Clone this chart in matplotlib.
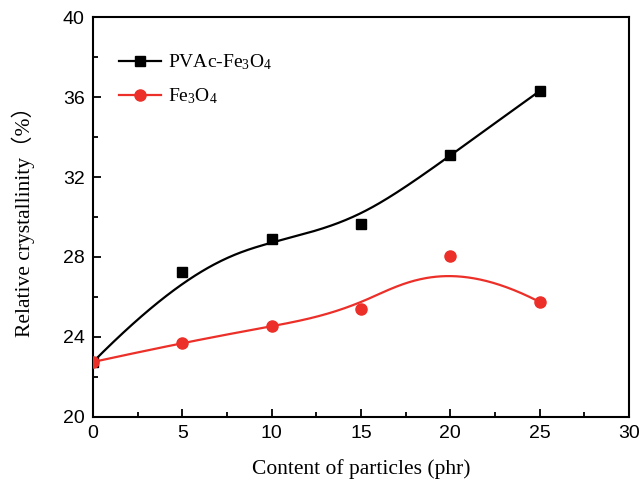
import numpy as np
import matplotlib
matplotlib.use("Agg")
import matplotlib.pyplot as plt

plt.rcParams["mathtext.fontset"] = "custom"
plt.rcParams["mathtext.rm"] = "Liberation Serif"
plt.rcParams["mathtext.it"] = "Liberation Serif:italic"

content = [0, 5, 10, 15, 20, 25]
pvac_fe3o4 = [22.75, 27.25, 28.9, 29.65, 33.1, 36.3]
fe3o4 = [22.75, 23.72, 24.53, 25.38, 28.07, 25.75]


def bspline(xs, ys, n=300, k=3):
    pts = np.column_stack([xs, ys]).astype(float)
    m = len(pts)
    inner = np.linspace(0, 1, m - k + 1)
    t = np.concatenate([[0] * k, inner, [1] * k])
    u = np.linspace(0, 1, n)
    u[-1] = 1 - 1e-12

    def N(i, p, uu):
        if p == 0:
            return np.where((t[i] <= uu) & (uu < t[i + 1]), 1.0, 0.0)
        a = 0.0
        if t[i + p] != t[i]:
            a = (uu - t[i]) / (t[i + p] - t[i]) * N(i, p - 1, uu)
        b = 0.0
        if t[i + p + 1] != t[i + 1]:
            b = (t[i + p + 1] - uu) / (t[i + p + 1] - t[i + 1]) * N(i + 1, p - 1, uu)
        return a + b

    B = np.array([N(i, k, u) for i in range(m)])
    curve = B.T @ pts
    return curve[:, 0], curve[:, 1]


fig = plt.figure(figsize=(6.4, 4.82), dpi=100)
ax = fig.add_axes([0.1453, 0.1349, 0.8375, 0.8298])

bx, by = bspline(content, pvac_fe3o4)
rx, ry = bspline(content, fe3o4)

red = "#ec2f28"
ax.plot(bx, by, color="black", lw=1.6)
ax.plot(rx, ry, color=red, lw=1.6)
ax.plot(content, pvac_fe3o4, "s", color="black", ms=7, zorder=3)
ax.plot(content, fe3o4, "o", color=red, ms=8, zorder=3)

# legend proxies
ax.plot([], [], "-s", color="black", lw=1.6, ms=7, label=r"PVAc-Fe$_\mathrm{3}$O$_\mathrm{4}$")
ax.plot([], [], "-o", color=red, lw=1.6, ms=8, label=r"Fe$_\mathrm{3}$O$_\mathrm{4}$")
leg = ax.legend(loc="upper left", bbox_to_anchor=(0.015, 0.955), frameon=False,
                prop={"family": "Liberation Serif", "size": 14},
                handlelength=2.2, labelspacing=0.75, handletextpad=0.35)

ax.set_xlim(0, 30)
ax.set_ylim(20, 40)
ax.set_xticks([0, 5, 10, 15, 20, 25, 30])
ax.set_yticks([20, 24, 28, 32, 36, 40])
ax.set_xticks(np.arange(2.5, 30, 5), minor=True)
ax.set_yticks(np.arange(22, 40, 4), minor=True)
ax.tick_params(which="both", direction="in", top=False, right=False)
ax.tick_params(which="major", length=6, width=1.3, labelsize=14, pad=6)
ax.tick_params(which="minor", length=3.5, width=1.3)
for lab in ax.get_xticklabels() + ax.get_yticklabels():
    lab.set_family("Liberation Sans")
for s in ax.spines.values():
    s.set_linewidth(1.5)

mtfont = {"family": ["Liberation Serif", "Noto Sans CJK SC"], "size": 15.5}
ax.set_xlabel("Content of particles (phr)", fontdict=mtfont, labelpad=12)
ax.set_ylabel("Relative crystallinity（%）", fontdict=mtfont, labelpad=20)

fig.savefig("out.png", dpi=100)
